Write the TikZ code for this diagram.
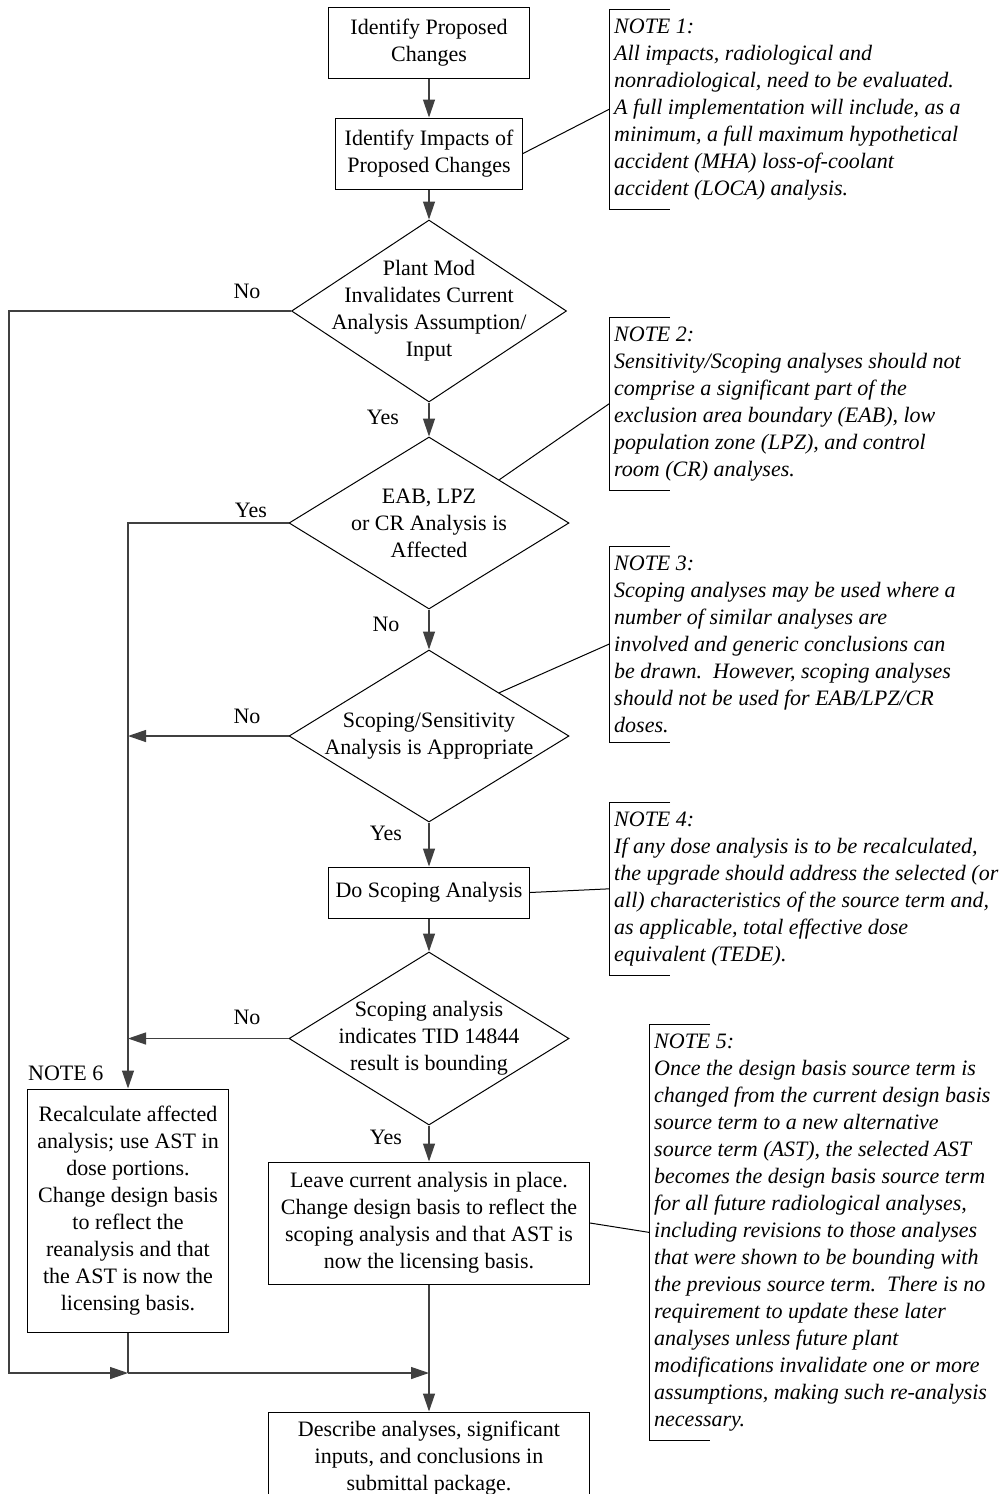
\documentclass[tikz,border=0pt]{standalone}
\usepackage{fontspec}
\setmainfont{Liberation Serif}
\usetikzlibrary{calc}
\usetikzlibrary{arrows.meta}
\usetikzlibrary{shapes.geometric}

\tikzset{
 box/.style={draw, line width=1pt, align=center, inner sep=0pt},
 dia/.style={draw, diamond, line width=1pt, inner sep=0pt},
 note/.style={align=left, anchor=north west, inner xsep=5pt, inner ysep=9.5pt, font=\fontsize{22}{27}\selectfont\itshape},
 flow/.style={line width=1.3pt, draw=black!75},
 tie/.style={line width=1pt}
}

\begin{document}
\begin{tikzpicture}[x=1pt, y=-1pt, font=\fontsize{22}{27}\selectfont, >={Triangle[length=18pt,width=12pt]}]
\useasboundingbox (0,0) rectangle (1006,1494);

\node[box, minimum width=201pt, minimum height=71pt] (prop) at (429,42.5) {Identify Proposed\\Changes};
\node[box, minimum width=187pt, minimum height=71pt] (imp) at (429,153.5) {Identify Impacts of\\Proposed Changes};
\node[dia, minimum width=275pt, minimum height=182pt] (mod) at (429,311) {};
\node[align=center] (modtxt) at (mod) {Plant Mod\\Invalidates Current\\Analysis Assumption/\\Input};
\node[dia, minimum width=280pt, minimum height=172pt] (eab) at (429,523) {};
\node[align=center] (eabtxt) at (eab) {EAB, LPZ\\or CR Analysis is\\Affected};
\node[dia, minimum width=280pt, minimum height=172pt] (scp) at (429,736) {};
\node[align=center] (scptxt) at (scp) {Scoping/Sensitivity\\Analysis is Appropriate};
\node[box, minimum width=201pt, minimum height=51pt] (doscp) at (429,892.5) {Do Scoping Analysis};
\node[dia, minimum width=280pt, minimum height=173pt] (bnd) at (429,1038.5) {};
\node[align=center] (bndtxt) at (bnd) {Scoping analysis\\indicates TID 14844\\result is bounding};
\node[box, minimum width=201pt, minimum height=243pt] (recalc) at (128,1210.5) {Recalculate affected\\analysis; use AST in\\dose portions.\\Change design basis\\to reflect the\\reanalysis and that\\the AST is now the\\licensing basis.};
\node[box, minimum width=321pt, minimum height=122pt] (leave) at (429,1223) {Leave current analysis in place.\\Change design basis to reflect the\\scoping analysis and that AST is\\now the licensing basis.};
\node[box, minimum width=321pt, minimum height=92pt] (desc) at (429,1458) {Describe analyses, significant\\inputs, and conclusions in\\submittal package.};
\node[anchor=west, inner sep=0pt] (n6) at (28,1073) {NOTE 6};

\foreach \n/\t/\x/\y in {l1/No/247/291, l2/Yes/383/417, l3/Yes/251/510, l4/No/386/624, l5/No/247/716, l6/Yes/386/833, l7/No/247/1017, l8/Yes/386/1137}
 \node (\n) at (\x,\y) {\t};

\node[note] (n1) at (609,9) {NOTE 1:\\All impacts, radiological and\\nonradiological, need to be evaluated.\\A full implementation will include, as a\\minimum, a full maximum hypothetical\\accident (MHA) loss-of-coolant\\accident (LOCA) analysis.};
\node[note] (n2) at (609,317) {NOTE 2:\\Sensitivity/Scoping analyses should not\\comprise a significant part of the\\exclusion area boundary (EAB), low\\population zone (LPZ), and control\\room (CR) analyses.};
\node[note] (n3) at (609,546) {NOTE 3:\\Scoping analyses may be used where a\\number of similar analyses are\\involved and generic conclusions can\\be drawn.\ \ However, scoping analyses\\should not be used for EAB/LPZ/CR\\doses.};
\node[note] (n4) at (609,802) {NOTE 4:\\If any dose analysis is to be recalculated,\\the upgrade should address the selected (or\\all) characteristics of the source term and,\\as applicable, total effective dose\\equivalent (TEDE).};
\node[note] (n5) at (649,1024) {NOTE 5:\\Once the design basis source term is\\changed from the current design basis\\source term to a new alternative\\source term (AST), the selected AST\\becomes the design basis source term\\for all future radiological analyses,\\including revisions to those analyses\\that were shown to be bounding with\\the previous source term.\ \ There is no\\requirement to update these later\\analyses unless future plant\\modifications invalidate one or more\\assumptions, making such re-analysis\\necessary.};

\foreach \n in {n1,n2,n3,n4,n5}
 \draw[tie] ([xshift=61pt]\n.north west) -- (\n.north west) -- (\n.south west) -- ([xshift=61pt]\n.south west);

\coordinate (cnr) at (9,1373);
\coordinate (jl) at (128,1373);
\coordinate (jm) at (429,1373);

\draw[flow,->] (prop.south) -- (imp.north);
\draw[flow,->] (imp.south) -- (mod.north);
\draw[flow,->] (mod.south) -- (eab.north);
\draw[flow,->] (eab.south) -- (scp.north);
\draw[flow,->] (scp.south) -- (doscp.north);
\draw[flow,->] (doscp.south) -- (bnd.north);
\draw[flow,->] (bnd.south) -- (leave.north);
\draw[flow,->] (leave.south) -- (desc.north);
\draw[flow,->] (mod.west) -| (cnr) -- (jl);
\draw[flow,->] (eab.west) -| (recalc.north);
\draw[flow,->] (scp.west) -- (scp.west -| recalc.north);
\draw[flow,->] (bnd.west) -- (bnd.west -| recalc.north);
\draw[flow] (recalc.south) -- (jl);
\draw[flow,->] (jl) -- (jm);

\draw[tie] (imp.east) -- (n1.west);
\draw[tie] (eab.north east) -- (n2.west);
\draw[tie] (scp.north east) -- (n3.west);
\draw[tie] (doscp.east) -- (n4.west);
\draw[tie] (leave.east) -- (n5.west);
\end{tikzpicture}
\end{document}
